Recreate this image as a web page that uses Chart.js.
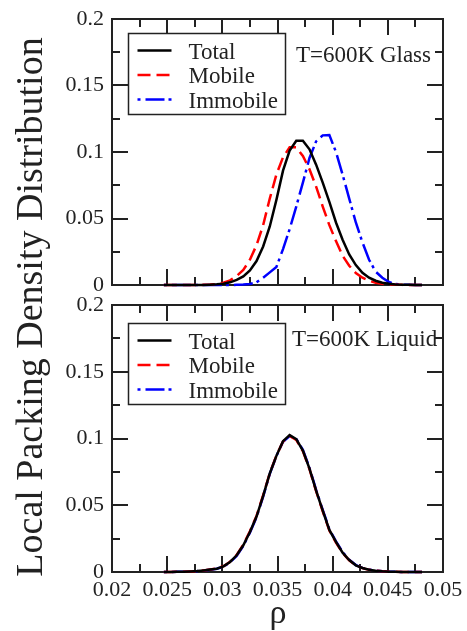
<!DOCTYPE html>
<html>
<head>
<meta charset="utf-8">
<script src="https://cdn.jsdelivr.net/npm/chart.js@4.4.1/dist/chart.umd.min.js"></script>
<style>
  body { margin: 0; background: #fff; width: 467px; height: 631px; position: relative; overflow: hidden; font-family: "Liberation Serif", serif; color: #222; }
  canvas { position: absolute; left: 0; }
  #glass { top: 0; }
  #liquid { top: 290px; }
  #ytitle { position: absolute; left: -271px; top: 288px; width: 600px; height: 38px; line-height: 38px; font-size: 38px; text-align: center; transform: rotate(-90deg); white-space: nowrap; }
  #xtitle { position: absolute; left: 228px; top: 595px; width: 100px; height: 34px; line-height: 34px; font-size: 34px; text-align: center; }
</style>
</head>
<body>
<canvas id="glass" width="467" height="300"></canvas>
<canvas id="liquid" width="467" height="341"></canvas>
<div id="ytitle">Local Packing Density Distribution</div>
<div id="xtitle">ρ</div>
<script>
// local packing density grid
const rho = [0.0247, 0.0253, 0.0259, 0.0265, 0.0271, 0.0277, 0.0283, 0.0289, 0.0295, 0.0301,
             0.0307, 0.0313, 0.0319, 0.0325, 0.0331, 0.0337, 0.0343, 0.0349, 0.0355, 0.0361,
             0.0367, 0.0373, 0.0379, 0.0385, 0.0391, 0.0397, 0.0403, 0.0409, 0.0415, 0.0421,
             0.0427, 0.0433, 0.0439, 0.0445, 0.0451, 0.0457, 0.0463, 0.0469, 0.0475, 0.0481];

// T=600K glass
const totalGlass = [0, 0, 0, 0, 0, 0, 0, 0.0002, 0.0005, 0.0010,
                    0.0020, 0.0038, 0.0065, 0.011, 0.018, 0.029, 0.044, 0.064, 0.086, 0.101,
                    0.1085, 0.1085, 0.102, 0.0905, 0.077, 0.0625, 0.047, 0.034, 0.023, 0.015,
                    0.0092, 0.0055, 0.0032, 0.0017, 0.0009, 0.0004, 0.0002, 0.0001, 0, 0];
const mobileGlass = [0, 0, 0, 0, 0, 0, 0.0001, 0.0003, 0.0008, 0.0018,
                     0.0035, 0.0068, 0.0113, 0.019, 0.030, 0.045, 0.065, 0.083, 0.096, 0.1035,
                     0.1035, 0.097, 0.087, 0.074, 0.059, 0.045, 0.033, 0.022, 0.0145, 0.009,
                     0.0055, 0.0032, 0.0017, 0.0009, 0.0004, 0.0002, 0.0001, 0, 0, 0];
const immobileGlass = [0, 0, 0, 0, 0, 0, 0, 0, 0, 0,
                       0, 0.0001, 0.0003, 0.0008, 0.002, 0.0055, 0.0095, 0.0135, 0.027, 0.042,
                       0.059, 0.077, 0.0955, 0.108, 0.1125, 0.1128, 0.100, 0.083, 0.065, 0.047,
                       0.032, 0.019, 0.010, 0.0055, 0.0022, 0.0008, 0.0003, 0.0001, 0, 0];

// T=600K liquid
const totalLiquid = [0, 0, 0.0001, 0.0002, 0.0004, 0.0007, 0.0012, 0.0018, 0.0025, 0.0042,
                     0.0075, 0.0125, 0.020, 0.030, 0.0415, 0.057, 0.0738, 0.087, 0.098, 0.1025,
                     0.0995, 0.091, 0.0775, 0.061, 0.046, 0.0315, 0.0225, 0.0145, 0.009, 0.005,
                     0.003, 0.0017, 0.001, 0.0005, 0.0002, 0.0001, 0, 0, 0, 0];
const mobileLiquid = [0, 0, 0.0001, 0.0002, 0.0004, 0.0007, 0.0012, 0.0019, 0.0026, 0.0043,
                      0.0077, 0.0128, 0.0205, 0.0305, 0.042, 0.0575, 0.074, 0.0872, 0.0978, 0.102,
                      0.099, 0.0905, 0.077, 0.0605, 0.0455, 0.031, 0.022, 0.0142, 0.0088, 0.005,
                      0.0029, 0.0016, 0.001, 0.0005, 0.0002, 0.0001, 0, 0, 0, 0];
const immobileLiquid = [0, 0, 0.0001, 0.0002, 0.0003, 0.0006, 0.0011, 0.0017, 0.0024, 0.004,
                        0.0072, 0.012, 0.0195, 0.0295, 0.041, 0.0565, 0.0735, 0.0868, 0.0975, 0.1018,
                        0.0998, 0.0915, 0.078, 0.0615, 0.0465, 0.032, 0.023, 0.015, 0.0092, 0.0052,
                        0.0031, 0.0018, 0.0011, 0.0005, 0.0002, 0.0001, 0, 0, 0, 0];

const seriesNames = ['Total', 'Mobile', 'Immobile'];
const xTicks = [0.02, 0.025, 0.03, 0.035, 0.04, 0.045, 0.05];
const yTicks = [0, 0.05, 0.1, 0.15, 0.2];

Chart.defaults.font.family = '"Liberation Serif", serif';
Chart.defaults.color = '#222';

const fmt = v => String(Number(v.toFixed(4)));

// box around the plot plus inward ticks on all four sides
const frameTicks = {
    id: 'frameTicks',
    beforeDatasetsDraw(chart) {
        const { ctx, chartArea: a, scales: { x, y } } = chart;
        ctx.save();
        ctx.strokeStyle = '#222';
        ctx.lineWidth = 2;
        ctx.beginPath();
        for (let i = 1; i < 12; i++) {
            const px = Math.round(x.getPixelForValue(0.02 + i * 0.0025));
            const len = i % 2 === 0 ? 16 : 8;
            ctx.moveTo(px, a.bottom); ctx.lineTo(px, a.bottom - len);
            ctx.moveTo(px, a.top); ctx.lineTo(px, a.top + len);
        }
        for (let i = 1; i < 8; i++) {
            const py = Math.round(y.getPixelForValue(i * 0.025));
            const len = i % 2 === 0 ? 16 : 8;
            ctx.moveTo(a.left, py); ctx.lineTo(a.left + len, py);
            ctx.moveTo(a.right, py); ctx.lineTo(a.right - len, py);
        }
        ctx.stroke();
        ctx.strokeRect(a.left, a.top, a.right - a.left, a.bottom - a.top);
        ctx.restore();
    }
};

// boxed legend and the temperature note
const boxLegend = {
    id: 'boxLegend',
    afterDatasetsDraw(chart, args, opts) {
        const ctx = chart.ctx;
        ctx.save();
        ctx.fillStyle = '#fff';
        ctx.fillRect(opts.left, opts.top, 157, 81);
        ctx.strokeStyle = '#222';
        ctx.lineWidth = 1.5;
        ctx.strokeRect(opts.left, opts.top, 157, 81);
        ctx.font = '23px "Liberation Serif"';
        ctx.textBaseline = 'alphabetic';
        chart.data.datasets.forEach((ds, i) => {
            const ly = opts.top + 17 + i * 24.5;
            ctx.strokeStyle = ds.borderColor;
            ctx.lineWidth = ds.borderWidth;
            ctx.setLineDash(ds.borderDash || []);
            ctx.beginPath();
            ctx.moveTo(opts.left + 9, ly);
            ctx.lineTo(opts.left + 43, ly);
            ctx.stroke();
            ctx.setLineDash([]);
            ctx.fillStyle = '#222';
            ctx.fillText(ds.label, opts.left + 60, ly + 8);
        });
        ctx.fillText(opts.note, opts.noteX, opts.noteY);
        ctx.restore();
    }
};

function makeSet(label, values, color, dash) {
    return {
        label: label,
        data: rho.map((r, i) => ({ x: r, y: values[i] })),
        borderColor: color,
        borderWidth: 2.5,
        borderDash: dash,
        pointRadius: 0,
        tension: 0,
        fill: false,
        clip: 4
    };
}

function makePanel(id, values, showX, pad, legendOpts) {
    const ctx = document.getElementById(id).getContext('2d');
    return new Chart(ctx, {
        type: 'line',
        data: {
            datasets: [
                makeSet(seriesNames[0], values[0], '#000000', []),
                makeSet(seriesNames[1], values[1], '#ff0000', [13, 6]),
                makeSet(seriesNames[2], values[2], '#0000ff', [3, 5, 19, 4])
            ]
        },
        options: {
            responsive: false,
            animation: false,
            devicePixelRatio: 1,
            layout: { padding: pad },
            scales: {
                x: {
                    type: 'linear',
                    min: 0.02,
                    max: 0.05,
                    afterBuildTicks: s => { s.ticks = xTicks.map(v => ({ value: v })); },
                    afterFit: s => {
                        s.height = showX ? 40 : 0;
                        s.paddingLeft = 0; s.paddingRight = 0;
                    },
                    grid: { display: false, drawTicks: false },
                    border: { display: false },
                    ticks: {
                        display: showX,
                        autoSkip: false,
                        maxRotation: 0,
                        padding: 5,
                        font: { size: 22 },
                        callback: fmt
                    }
                },
                y: {
                    min: 0,
                    max: 0.2,
                    afterBuildTicks: s => { s.ticks = yTicks.map(v => ({ value: v })); },
                    afterFit: s => {
                        s.width = 112;
                        s.paddingTop = 0; s.paddingBottom = 0;
                    },
                    grid: { display: false, drawTicks: false },
                    border: { display: false },
                    ticks: {
                        padding: 8,
                        font: { size: 22 },
                        callback: fmt
                    }
                }
            },
            plugins: {
                legend: { display: false },
                tooltip: { enabled: false },
                boxLegend: legendOpts
            }
        },
        plugins: [frameTicks, boxLegend]
    });
}

makePanel('glass', [totalGlass, mobileGlass, immobileGlass], false,
    { left: 0, right: 24, top: 19, bottom: 15 },
    { left: 128.5, top: 33.5, note: 'T=600K Glass', noteX: 296, noteY: 62 });

makePanel('liquid', [totalLiquid, mobileLiquid, immobileLiquid], true,
    { left: 0, right: 24, top: 15, bottom: 19 },
    { left: 128.5, top: 33.5, note: 'T=600K Liquid', noteX: 292, noteY: 56 });
</script>
</body>
</html>
